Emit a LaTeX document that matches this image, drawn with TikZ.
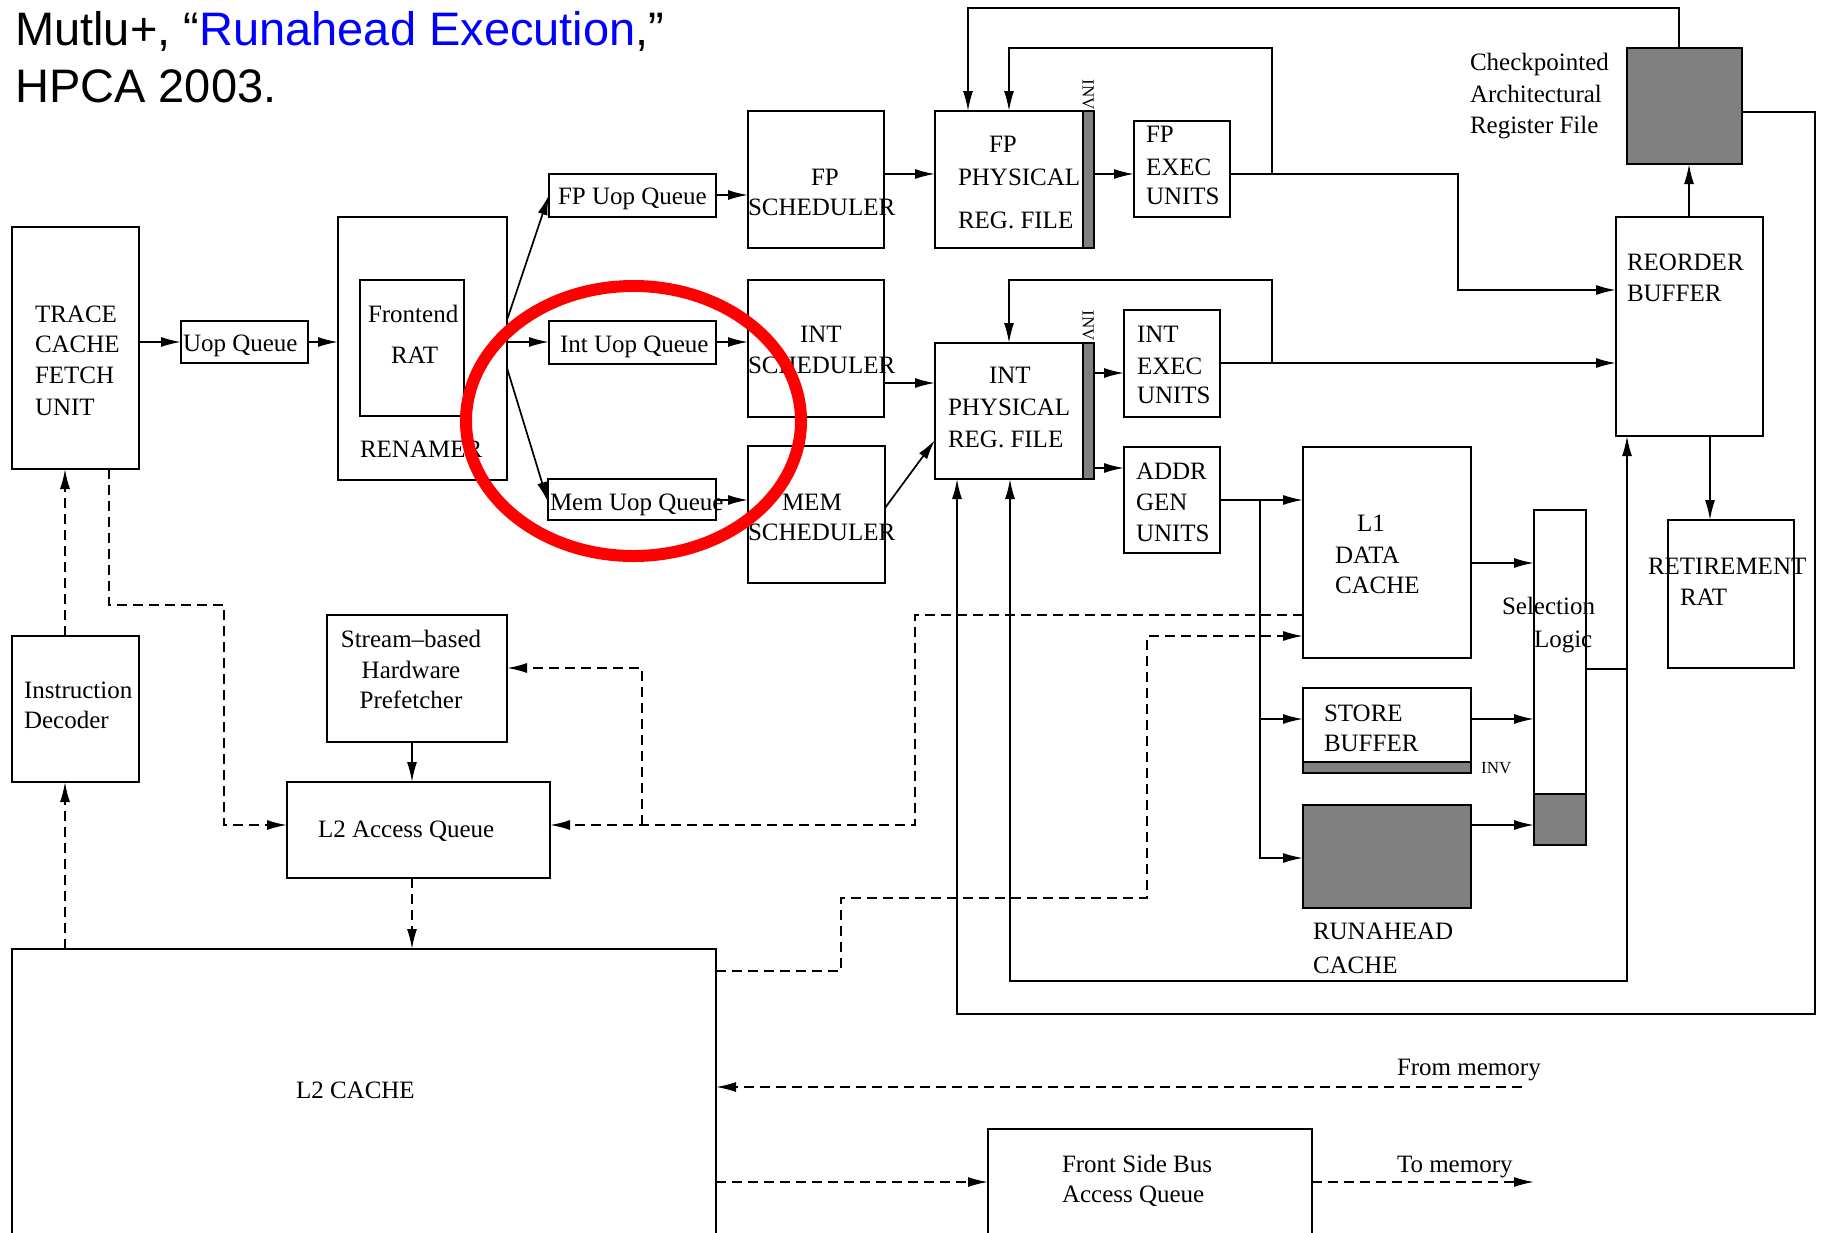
\documentclass[tikz,border=0pt]{standalone}
\usepackage{fontspec}
\setmainfont{Liberation Serif}
\newfontfamily\titlefont{Liberation Sans}
\usetikzlibrary{arrows.meta}
\definecolor{gbar}{RGB}{128,128,128}
\definecolor{ttblue}{RGB}{0,0,255}
\definecolor{ringred}{RGB}{255,0,0}
\newcommand\mybox[6][]{\node[box,#1,minimum width={#5pt-#3pt},minimum height={#6pt-#4pt}] (#2) at (#3,#4) {};}
\newcommand\mytext[4]{\node[lbl] (#1) at (#2,#3) {#4};}
\begin{document}
\begin{tikzpicture}[x=1pt,y=-1pt,
  box/.style={draw,line width=2pt,inner sep=0pt,outer sep=0pt,anchor=north west,fill=white},
  lbl/.style={anchor=base west,inner sep=0pt,outer sep=0pt,font=\fontsize{25}{30}\selectfont},
  ln/.style={line width=1.7pt},
  arr/.style={ln,-{Latex[length=20pt,width=10pt]}},
  arrb/.style={ln,{Latex[length=20pt,width=10pt]}-{Latex[length=20pt,width=10pt]}},
  darr/.style={arr,dash pattern=on 10pt off 6pt},
  grayfill/.style={draw,line width=2pt,fill=gbar},
  invlbl/.style={inner sep=0pt,font=\fontsize{17}{20}\selectfont}
]
\path[use as bounding box,fill=white] (0,0) rectangle (1825,1232);
\clip (0,0) rectangle (1825,1232);

% title
\node[anchor=base west,inner sep=0pt,font=\titlefont\fontsize{47}{57}\selectfont] (title1) at (15,45) {Mutlu+, “\textcolor{ttblue}{Runahead Execution},”};
\node[anchor=base west,inner sep=0pt,font=\titlefont\fontsize{47}{57}\selectfont] (title2) at (15,102) {HPCA 2003.};

% boxes
\mybox{trace}{12}{227}{139}{469}
\mybox{uopq}{181}{321}{308}{363}
\mybox{renamer}{338}{217}{507}{480}
\mybox{frat}{360}{280}{464}{416}
\mybox{fpuq}{549}{174}{716}{217}
\mybox{intuq}{549}{321}{716}{364}
\mybox{memuq}{548}{479}{716}{520}
\mybox{fpsched}{748}{111}{884}{248}
\mybox{intsched}{748}{280}{884}{417}
\mybox{memsched}{748}{446}{885}{583}
\mybox{fpphys}{935}{111}{1094}{248}
\mybox{intphys}{935}{343}{1094}{479}
\mybox{fpexec}{1134}{121}{1230}{217}
\mybox{intexec}{1124}{310}{1220}{417}
\mybox{addr}{1124}{447}{1220}{553}
\mybox{l1}{1303}{447}{1471}{658}
\mybox{store}{1303}{688}{1471}{773}
\mybox[fill=gbar]{runahead}{1303}{805}{1471}{908}
\mybox{sel}{1534}{510}{1586}{845}
\mybox{rob}{1616}{217}{1763}{436}
\mybox[fill=gbar]{ckpt}{1627}{48}{1742}{164}
\mybox{retire}{1668}{520}{1794}{668}
\mybox{idec}{12}{636}{139}{782}
\mybox{stream}{327}{615}{507}{742}
\mybox{l2aq}{287}{782}{550}{878}
\mybox{l2}{12}{949}{716}{1245}
\mybox{fsb}{988}{1129}{1312}{1245}

% gray parts
\draw[grayfill] (1083,111) rectangle (1094,248);
\draw[grayfill] (1083,343) rectangle (1094,479);
\draw[grayfill] (1303,762) rectangle (1471,773);
\draw[grayfill] (1534,794) rectangle (1586,845);

% solid connectors
\draw[arr] (trace.east |- 0,342) -- (uopq.west |- 0,342);
\draw[arr] (uopq.east |- 0,342) -- (renamer.west |- 0,342);
\draw[arr] (renamer.east |- 0,320) -- (fpuq.west |- 0,195);
\draw[arr] (renamer.east |- 0,342) -- (intuq.west |- 0,342);
\draw[arr] (renamer.east |- 0,368) -- (memuq.west |- 0,502);
\draw[arr] (fpuq.east |- 0,195) -- (fpsched.west |- 0,195);
\draw[arr] (intuq.east |- 0,342) -- (intsched.west |- 0,342);
\draw[arr] (memuq.east |- 0,500) -- (memsched.west |- 0,500);
\draw[arr] (fpsched.east |- 0,174) -- (fpphys.west |- 0,174);
\draw[arr] (intsched.east |- 0,383) -- (intphys.west |- 0,383);
\draw[arr] (memsched.east |- 0,508) -- (intphys.west |- 0,440);
\draw[arr] (fpphys.east |- 0,174) -- (fpexec.west |- 0,174);
\draw[arr] (intphys.east |- 0,373) -- (intexec.west |- 0,373);
\draw[arr] (intphys.east |- 0,468) -- (addr.west |- 0,468);
\draw[arr] (fpexec.east |- 0,174) -- (1458,174) -- (1458,290) -- (rob.west |- 0,290);
\coordinate (fpbr) at (1272,174);
\draw[arr] (fpbr) -- (1272,48) -- (1009,48) -- (fpphys.north -| 1009,0);
\draw[arr] (ckpt.north -| 1679,0) -- (1679,8) -- (968,8) -- (fpphys.north -| 968,0);
\draw[arr] (intexec.east |- 0,363) -- (rob.west |- 0,363);
\coordinate (intbr) at (1272,363);
\draw[arr] (intbr) -- (1272,280) -- (1009,280) -- (intphys.north -| 1009,0);
\draw[arr] (addr.east |- 0,500) -- (l1.west |- 0,500);
\coordinate (agbr) at (1260,500);
\draw[arr] (agbr) -- (1260,858) -- (runahead.west |- 0,858);
\coordinate (agbr2) at (1260,719);
\draw[arr] (agbr2) -- (store.west |- 0,719);
\draw[arr] (l1.east |- 0,563) -- (sel.west |- 0,563);
\draw[arr] (store.east |- 0,719) -- (sel.west |- 0,719);
\draw[arr] (runahead.east |- 0,825) -- (sel.west |- 0,825);
\coordinate (selj) at (1627,669);
\draw[ln] (sel.east |- 0,669) -- (selj);
\draw[arrb] (intphys.south -| 1010,0) -- (1010,981) -- (1627,981) -- (rob.south -| 1627,0);
\draw[arr] (ckpt.east |- 0,112) -- (1815,112) -- (1815,1014) -- (957,1014) -- (intphys.south -| 957,0);
\draw[arr] (rob.north -| 1689,0) -- (ckpt.south -| 1689,0);
\draw[arr] (rob.south -| 1710,0) -- (retire.north -| 1710,0);
\draw[arr] (stream.south -| 412,0) -- (l2aq.north -| 412,0);

% dashed connectors
\draw[darr] (idec.north -| 65,0) -- (trace.south -| 65,0);
\draw[darr] (l2.north -| 65,0) -- (idec.south -| 65,0);
\draw[darr] (trace.south -| 109,0) -- (109,605) -- (224,605) -- (224,825) -- (l2aq.west |- 0,825);
\draw[darr] (l1.west |- 0,615) -- (915,615) -- (915,825) -- (l2aq.east |- 0,825);
\coordinate (pfj) at (642,825);
\draw[darr] (pfj) -- (642,668) -- (stream.east |- 0,668);
\draw[darr] (l2aq.south -| 412,0) -- (l2.north -| 412,0);
\draw[darr] (l2.east |- 0,971) -- (841,971) -- (841,898) -- (1147,898) -- (1147,636) -- (l1.west |- 0,636);
\coordinate (frommem) at (1522,1087);
\draw[darr] (frommem) -- (l2.east |- 0,1087);
\draw[darr] (l2.east |- 0,1182) -- (fsb.west |- 0,1182);
\coordinate (tomem) at (1534,1182);
\draw[darr] (fsb.east |- 0,1182) -- (tomem);

% texts
\mytext{ta}{35}{322}{TRACE}
\mytext{tb}{35}{352}{CACHE}
\mytext{tc}{35}{383}{FETCH}
\mytext{td}{35}{415}{UNIT}
\mytext{te}{183}{351}{Uop Queue}
\mytext{tf}{368}{322}{Frontend}
\mytext{tg}{391}{363}{RAT}
\mytext{th}{360}{457}{RENAMER}
\mytext{ti}{558}{204}{FP Uop Queue}
\mytext{tj}{560}{352}{Int Uop Queue}
\mytext{tk}{550}{510}{Mem Uop Queue}
\mytext{tl1}{811}{185}{FP}
\mytext{tm}{748}{215}{SCHEDULER}
\mytext{tn}{800}{342}{INT}
\mytext{to}{748}{373}{SCHEDULER}
\mytext{tp}{782}{510}{MEM}
\mytext{tq}{748}{540}{SCHEDULER}
\mytext{tr}{989}{152}{FP}
\mytext{ts}{958}{185}{PHYSICAL}
\mytext{tt}{958}{228}{REG. FILE}
\mytext{tu}{989}{383}{INT}
\mytext{tv}{948}{415}{PHYSICAL}
\mytext{tw}{948}{447}{REG. FILE}
\mytext{tx}{1146}{142}{FP}
\mytext{ty}{1146}{175}{EXEC}
\mytext{tz}{1146}{204}{UNITS}
\mytext{ua}{1137}{342}{INT}
\mytext{ub}{1137}{374}{EXEC}
\mytext{uc}{1137}{403}{UNITS}
\mytext{ud}{1136}{479}{ADDR}
\mytext{ue}{1136}{510}{GEN}
\mytext{uf}{1136}{541}{UNITS}
\mytext{ug}{1357}{531}{L1}
\mytext{uh}{1335}{563}{DATA}
\mytext{ui}{1335}{593}{CACHE}
\mytext{uj}{1324}{721}{STORE}
\mytext{uk}{1324}{751}{BUFFER}
\node[invlbl,anchor=base west] (ul) at (1481,773) {INV};
\node[invlbl,rotate=-90] (um) at (1088,95) {INV};
\node[invlbl,rotate=-90] (un) at (1088,326) {INV};
\mytext{uo}{1502}{614}{Selection}
\mytext{up}{1534}{647}{Logic}
\mytext{uq}{1313}{939}{RUNAHEAD}
\mytext{ur}{1313}{973}{CACHE}
\mytext{us}{1627}{270}{REORDER}
\mytext{ut}{1627}{301}{BUFFER}
\mytext{uu}{1470}{70}{Checkpointed}
\mytext{uv}{1470}{102}{Architectural}
\mytext{uw}{1470}{133}{Register File}
\mytext{ux}{1648}{574}{RETIREMENT}
\mytext{uy}{1680}{605}{RAT}
\mytext{uz}{24}{698}{Instruction}
\mytext{va}{24}{728}{Decoder}
\node[lbl,anchor=base] (vb) at (411,647) {Stream–based};
\node[lbl,anchor=base] (vc) at (411,678) {Hardware};
\node[lbl,anchor=base] (vd) at (411,708) {Prefetcher};
\mytext{ve}{318}{837}{L2 Access Queue}
\mytext{vf}{296}{1098}{L2 CACHE}
\mytext{vg}{1397}{1075}{From memory}
\mytext{vh}{1062}{1172}{Front Side Bus}
\mytext{vi}{1062}{1202}{Access Queue}
\mytext{vj}{1397}{1172}{To memory}

% red ring
\draw[line width=12pt,draw=ringred] (633.5,421) ellipse [x radius=167.5, y radius=135];
\end{tikzpicture}
\end{document}
